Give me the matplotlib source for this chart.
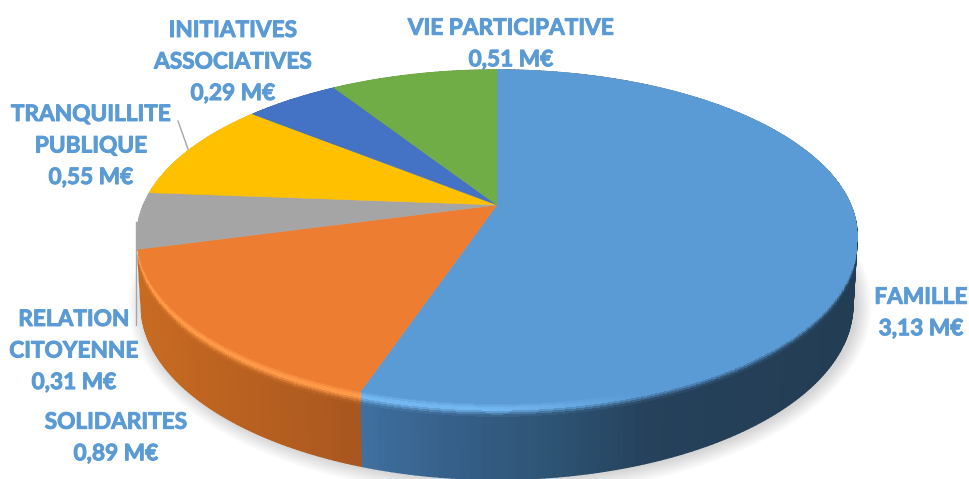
import numpy as np
import matplotlib
matplotlib.use("Agg")
import matplotlib.pyplot as plt
import matplotlib.patheffects as pe
from matplotlib.collections import PolyCollection
from matplotlib.colors import to_rgb

# ---- data -------------------------------------------------------------
categories = ["FAMILLE", "SOLIDARITES", "RELATION\nCITOYENNE", "TRANQUILLITE\nPUBLIQUE",
              "INITIATIVES\nASSOCIATIVES", "VIE PARTICIPATIVE"]
values = [3.13, 0.89, 0.31, 0.55, 0.29, 0.51]
value_labels = ["3,13 M€", "0,89 M€", "0,31 M€", "0,55 M€", "0,29 M€", "0,51 M€"]
colors = ["#5b9bd5", "#ed7d31", "#a5a5a5", "#ffc000", "#4472c4", "#70ad47"]
label_pos = [(921, 313), (116, 438), (74, 351), (91, 146), (233, 62), (511, 44)]

# ---- projection of the disc -------------------------------------------
CX, CY = 497.0, 205.0
A_X, A_Y, K = 353.6, 160.7, 0.19
DROP_CY, TOP_CY, SCALE_Y, SCALE_X = 305.0, 236.5, 174 / 166.5, 0.988
BEVEL = 0.17


def rim(theta):
    """Clockwise angle from the top (radians) -> top rim pixel coordinates."""
    c, s = np.sin(theta), np.cos(theta)
    w = 1 + K * s
    return CX + A_X * c / w, CY - A_Y * s / w


def low(theta):
    x, y = rim(theta)
    return CX + (x - CX) * SCALE_X, DROP_CY + (y - TOP_CY) * SCALE_Y


def mix(a, b, f):
    a, b = np.array(a), np.array(b)
    return a + (b - a) * np.clip(f, 0, 1)


wall_stops = {
    0: ([362, 450, 560, 650, 860], ["#3f709f", "#36608a", "#2d5272", "#25415b", "#233d53"]),
    1: ([135, 362], ["#c96b22", "#a8561f"]),
    2: ([130, 150], ["#bcbcbc", "#bcbcbc"]),
    3: ([130, 260], ["#c99700", "#c99700"]),
    4: ([250, 340], ["#345a9c", "#345a9c"]),
    5: ([330, 500], ["#588a38", "#588a38"]),
}
highlight = {0: "#74b8f2", 1: "#ff9a48", 2: "#d8d8d8"}


def wall_color(i, x):
    xs, cs = wall_stops[i]
    rgb = np.array([to_rgb(c) for c in cs])
    return np.array([np.interp(x, xs, rgb[:, k]) for k in range(3)])


fig = plt.figure(figsize=(9.69, 4.79), dpi=100)
ax = fig.add_axes([0, 0, 1, 1])
ax.set_xlim(0, 969)
ax.set_ylim(479, 0)
ax.axis("off")

# ---- wedge angles come from the values --------------------------------
fractions = np.array(values) / np.sum(values)
edges = np.concatenate([[0], np.cumsum(fractions)]) * 2 * np.pi

# ---- soft shadow ------------------------------------------------------
full = np.linspace(0, 2 * np.pi, 361)
lx, ly = low(full)
for grow in np.linspace(16, 1, 14):
    sx = CX + 3 + (lx - CX) * (1 + grow / 356)
    sy = DROP_CY + 1 + (ly - DROP_CY) * (1 + grow / 174)
    ax.fill(sx, sy, color="#000000", alpha=0.012, lw=0, zorder=1)

# ---- side wall ----------------------------------------------------------
walls, bevels = [], []
levels = [0, 0.15, 0.3, 0.45, 0.6, 0.75, 0.9, 1.0]
for i in range(len(values)):
    th = np.linspace(edges[i], edges[i + 1], max(8, int((edges[i + 1] - edges[i]) * 70)))
    top_c = to_rgb(colors[i])
    hi_c = to_rgb(highlight.get(i, colors[i]))
    for a, b in zip(th[:-1], th[1:]):
        xa, ya = rim(a)
        xb, yb = rim(b)
        xla, yla = low(a)
        xlb, ylb = low(b)
        xm = (xa + xb) / 2
        wc = wall_color(i, xm)
        strength = np.clip((640 - xm) / 150, 0, 1)
        depth = (ya + yb) / 2
        walls.append((depth, [(xa, ya), (xb, yb), (xlb, ylb), (xla, yla)], wc))
        for l0, l1 in zip(levels[:-1], levels[1:]):
            f0, f1 = l0 * BEVEL, l1 * BEVEL
            lm = (l0 + l1) / 2
            base_hi = mix(top_c, hi_c, strength)
            if lm < 0.4:
                c = mix(top_c, base_hi, lm / 0.4)
            elif lm < 0.55:
                c = base_hi
            else:
                c = mix(base_hi, wc, (lm - 0.55) / 0.45)
            bevels.append((depth, [(xa + (xla - xa) * f0, ya + (yla - ya) * f0),
                                   (xb + (xlb - xb) * f0, yb + (ylb - yb) * f0),
                                   (xb + (xlb - xb) * f1, yb + (ylb - yb) * f1),
                                   (xa + (xla - xa) * f1, ya + (yla - ya) * f1)], c))
# painter's order: far quads first, so the front slices cover the far ones
walls.sort(key=lambda q: q[0])
bevels.sort(key=lambda q: q[0])
ax.add_collection(PolyCollection([q[1] for q in walls], facecolors=[q[2] for q in walls],
                                 edgecolors="face", linewidths=1.0, zorder=2))
ax.add_collection(PolyCollection([q[1] for q in bevels], facecolors=[q[2] for q in bevels],
                                 edgecolors="none", linewidths=0, antialiased=False, zorder=2.5))

# thin dark edge on the far right of the rim
th = np.linspace(np.radians(75), np.radians(100), 40)
ax.plot(*rim(th), color="#2a4660", lw=1.0, zorder=2.2)

# ---- top face ---------------------------------------------------------
for i in range(len(values)):
    th = np.linspace(edges[i], edges[i + 1], 120)
    x, y = rim(th)
    ax.fill(np.r_[CX, x], np.r_[CY, y], color=colors[i], lw=0.3, zorder=3)

# ---- leader lines -----------------------------------------------------
ax.plot([178, 188], [121, 149], color="#a6a6a6", lw=1.0, zorder=4)
ax.plot([136, 136], [222, 325], color="#a6a6a6", lw=1.0, zorder=4)

# ---- labels -----------------------------------------------------------
for name, val, (px, py) in zip(categories, value_labels, label_pos):
    ax.text(px, py, f"{name}\n{val}", ha="center", va="center", color="#5b9bd5",
            family="Lato", fontweight="bold", fontsize=16.3, linespacing=1.62, zorder=5,
            path_effects=[pe.withStroke(linewidth=0.7, foreground="#5b9bd5")])

fig.savefig("out.png", dpi=100)
